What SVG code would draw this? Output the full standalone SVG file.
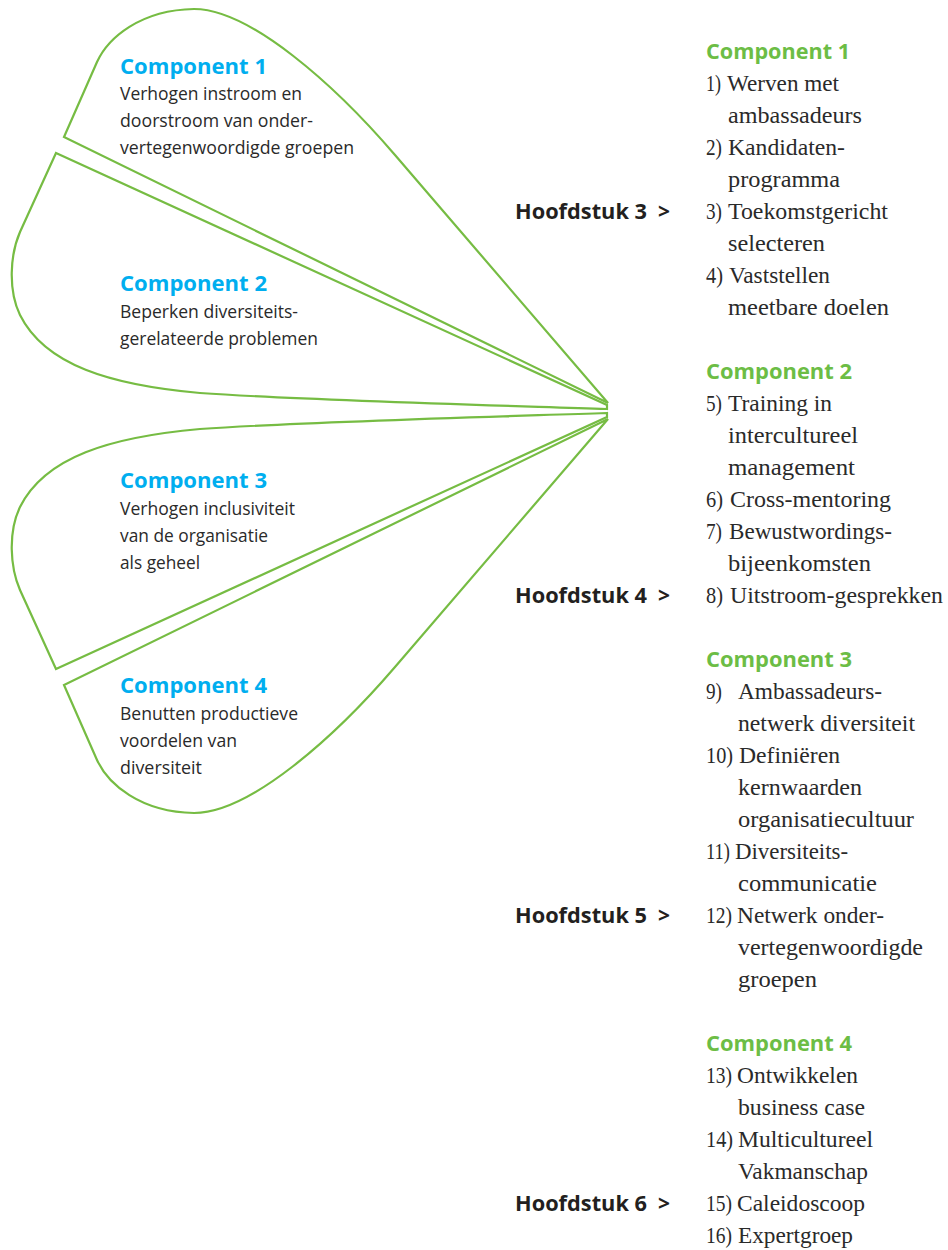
<svg xmlns="http://www.w3.org/2000/svg" width="948" height="1250" viewBox="0 0 948 1250">
<style>
.petal{fill:none;stroke:#76BC43;stroke-width:2.2;stroke-linejoin:miter}
.lh{font-family:"Open Sans","Liberation Sans",sans-serif;font-weight:700;font-size:21px;fill:#00AEEF}
.lt{font-family:"Open Sans","Liberation Sans",sans-serif;font-weight:400;font-size:18px;fill:#2a2a2a}
.rh{font-family:"Open Sans","Liberation Sans",sans-serif;font-weight:700;font-size:21px;fill:#6CBD45}
.rt{font-family:"Liberation Serif","DejaVu Serif",serif;font-size:24px;fill:#2a2a2a}
.hs{font-family:"Open Sans","Liberation Sans",sans-serif;font-weight:700;font-size:21px;fill:#231F20}
</style>
<rect width="948" height="1250" fill="#ffffff"/>

<g id="petal-1">
<path class="petal" d="M64,137 L97,62 C108,38 140,10 194,9 C250,9 335,85 395,155 L608,403 Z"/>
<text class="lh" x="120" y="74" textLength="147" lengthAdjust="spacingAndGlyphs">Component 1</text>
<text class="lt" x="120" y="100" textLength="182" lengthAdjust="spacingAndGlyphs">Verhogen instroom en</text>
<text class="lt" x="120" y="127" textLength="193" lengthAdjust="spacingAndGlyphs">doorstroom van onder-</text>
<text class="lt" x="120" y="154" textLength="234" lengthAdjust="spacingAndGlyphs">vertegenwoordigde groepen</text>
</g>

<g id="petal-2">
<path class="petal" d="M56,153 L607,405 L607,409 C450,404 300,400 200,393 C110,385 45,365 20,315 C8,290 10,255 20,232 Z"/>
<text class="lh" x="120" y="291" textLength="147" lengthAdjust="spacingAndGlyphs">Component 2</text>
<text class="lt" x="120" y="318" textLength="178" lengthAdjust="spacingAndGlyphs">Beperken diversiteits-</text>
<text class="lt" x="120" y="345" textLength="198" lengthAdjust="spacingAndGlyphs">gerelateerde problemen</text>
</g>

<g id="petal-3">
<path class="petal" d="M56,669 L607,417 L607,413 C450,418 300,422 200,429 C110,437 45,457 20,507 C8,532 10,567 20,590 Z"/>
<text class="lh" x="120" y="488" textLength="147" lengthAdjust="spacingAndGlyphs">Component 3</text>
<text class="lt" x="120" y="515" textLength="175" lengthAdjust="spacingAndGlyphs">Verhogen inclusiviteit</text>
<text class="lt" x="120" y="542" textLength="148" lengthAdjust="spacingAndGlyphs">van de organisatie</text>
<text class="lt" x="120" y="569" textLength="80" lengthAdjust="spacingAndGlyphs">als geheel</text>
</g>

<g id="petal-4">
<path class="petal" d="M64,685 L97,760 C108,784 140,812 194,813 C250,813 335,737 395,667 L608,419 Z"/>
<text class="lh" x="120" y="693" textLength="147" lengthAdjust="spacingAndGlyphs">Component 4</text>
<text class="lt" x="120" y="720" textLength="178" lengthAdjust="spacingAndGlyphs">Benutten productieve</text>
<text class="lt" x="120" y="747" textLength="117" lengthAdjust="spacingAndGlyphs">voordelen van</text>
<text class="lt" x="120" y="774" textLength="82" lengthAdjust="spacingAndGlyphs">diversiteit</text>
</g>

<g id="hoofdstuk-3"><text class="hs" x="515" y="219"><tspan textLength="132" lengthAdjust="spacingAndGlyphs">Hoofdstuk 3</tspan><tspan x="658">&gt;</tspan></text></g>
<g id="hoofdstuk-4"><text class="hs" x="515" y="603"><tspan textLength="132" lengthAdjust="spacingAndGlyphs">Hoofdstuk 4</tspan><tspan x="658">&gt;</tspan></text></g>
<g id="hoofdstuk-5"><text class="hs" x="515" y="923"><tspan textLength="132" lengthAdjust="spacingAndGlyphs">Hoofdstuk 5</tspan><tspan x="658">&gt;</tspan></text></g>
<g id="hoofdstuk-6"><text class="hs" x="515" y="1211"><tspan textLength="132" lengthAdjust="spacingAndGlyphs">Hoofdstuk 6</tspan><tspan x="658">&gt;</tspan></text></g>

<g id="list-component-1">
<text class="rh" x="706" y="59" textLength="144" lengthAdjust="spacingAndGlyphs">Component 1</text>
<text class="rt" x="706" y="91" textLength="15" lengthAdjust="spacingAndGlyphs">1)</text><text class="rt" x="727" y="91" textLength="112" lengthAdjust="spacingAndGlyphs">Werven met</text>
<text class="rt" x="728" y="123" textLength="134" lengthAdjust="spacingAndGlyphs">ambassadeurs</text>
<text class="rt" x="706" y="155" textLength="16" lengthAdjust="spacingAndGlyphs">2)</text><text class="rt" x="728" y="155" textLength="117" lengthAdjust="spacingAndGlyphs">Kandidaten-</text>
<text class="rt" x="728" y="187" textLength="112" lengthAdjust="spacingAndGlyphs">programma</text>
<text class="rt" x="706" y="219" textLength="16" lengthAdjust="spacingAndGlyphs">3)</text><text class="rt" x="728" y="219" textLength="160" lengthAdjust="spacingAndGlyphs">Toekomstgericht</text>
<text class="rt" x="728" y="251" textLength="97" lengthAdjust="spacingAndGlyphs">selecteren</text>
<text class="rt" x="706" y="283" textLength="17" lengthAdjust="spacingAndGlyphs">4)</text><text class="rt" x="729" y="283" textLength="101" lengthAdjust="spacingAndGlyphs">Vaststellen</text>
<text class="rt" x="728" y="315" textLength="161" lengthAdjust="spacingAndGlyphs">meetbare doelen</text>
</g>

<g id="list-component-2">
<text class="rh" x="706" y="379" textLength="146" lengthAdjust="spacingAndGlyphs">Component 2</text>
<text class="rt" x="706" y="411" textLength="16" lengthAdjust="spacingAndGlyphs">5)</text><text class="rt" x="728" y="411" textLength="104" lengthAdjust="spacingAndGlyphs">Training in</text>
<text class="rt" x="728" y="443" textLength="130" lengthAdjust="spacingAndGlyphs">intercultureel</text>
<text class="rt" x="728" y="475" textLength="127" lengthAdjust="spacingAndGlyphs">management</text>
<text class="rt" x="706" y="507" textLength="17" lengthAdjust="spacingAndGlyphs">6)</text><text class="rt" x="730" y="507" textLength="161" lengthAdjust="spacingAndGlyphs">Cross-mentoring</text>
<text class="rt" x="706" y="539" textLength="16" lengthAdjust="spacingAndGlyphs">7)</text><text class="rt" x="729" y="539" textLength="163" lengthAdjust="spacingAndGlyphs">Bewustwordings-</text>
<text class="rt" x="728" y="571" textLength="143" lengthAdjust="spacingAndGlyphs">bijeenkomsten</text>
<text class="rt" x="706" y="603" textLength="17" lengthAdjust="spacingAndGlyphs">8)</text><text class="rt" x="730" y="603" textLength="213" lengthAdjust="spacingAndGlyphs">Uitstroom-gesprekken</text>
</g>

<g id="list-component-3">
<text class="rh" x="706" y="667" textLength="146" lengthAdjust="spacingAndGlyphs">Component 3</text>
<text class="rt" x="706" y="699" textLength="16" lengthAdjust="spacingAndGlyphs">9)</text><text class="rt" x="738" y="699" textLength="144" lengthAdjust="spacingAndGlyphs">Ambassadeurs-</text>
<text class="rt" x="738" y="731" textLength="177" lengthAdjust="spacingAndGlyphs">netwerk diversiteit</text>
<text class="rt" x="706" y="763" textLength="27" lengthAdjust="spacingAndGlyphs">10)</text><text class="rt" x="739" y="763" textLength="101" lengthAdjust="spacingAndGlyphs">Definiëren</text>
<text class="rt" x="738" y="795" textLength="124" lengthAdjust="spacingAndGlyphs">kernwaarden</text>
<text class="rt" x="738" y="827" textLength="176" lengthAdjust="spacingAndGlyphs">organisatiecultuur</text>
<text class="rt" x="706" y="859" textLength="24" lengthAdjust="spacingAndGlyphs">11)</text><text class="rt" x="735" y="859" textLength="113" lengthAdjust="spacingAndGlyphs">Diversiteits-</text>
<text class="rt" x="738" y="891" textLength="139" lengthAdjust="spacingAndGlyphs">communicatie</text>
<text class="rt" x="706" y="923" textLength="26" lengthAdjust="spacingAndGlyphs">12)</text><text class="rt" x="737" y="923" textLength="147" lengthAdjust="spacingAndGlyphs">Netwerk onder-</text>
<text class="rt" x="738" y="955" textLength="185" lengthAdjust="spacingAndGlyphs">vertegenwoordigde</text>
<text class="rt" x="738" y="987" textLength="79" lengthAdjust="spacingAndGlyphs">groepen</text>
</g>

<g id="list-component-4">
<text class="rh" x="706" y="1051" textLength="146" lengthAdjust="spacingAndGlyphs">Component 4</text>
<text class="rt" x="706" y="1083" textLength="26" lengthAdjust="spacingAndGlyphs">13)</text><text class="rt" x="737" y="1083" textLength="121" lengthAdjust="spacingAndGlyphs">Ontwikkelen</text>
<text class="rt" x="738" y="1115" textLength="127" lengthAdjust="spacingAndGlyphs">business case</text>
<text class="rt" x="706" y="1147" textLength="27" lengthAdjust="spacingAndGlyphs">14)</text><text class="rt" x="738" y="1147" textLength="135" lengthAdjust="spacingAndGlyphs">Multicultureel</text>
<text class="rt" x="738" y="1179" textLength="130" lengthAdjust="spacingAndGlyphs">Vakmanschap</text>
<text class="rt" x="706" y="1211" textLength="26" lengthAdjust="spacingAndGlyphs">15)</text><text class="rt" x="737" y="1211" textLength="128" lengthAdjust="spacingAndGlyphs">Caleidoscoop</text>
<text class="rt" x="706" y="1243" textLength="26" lengthAdjust="spacingAndGlyphs">16)</text><text class="rt" x="738" y="1243" textLength="115" lengthAdjust="spacingAndGlyphs">Expertgroep</text>
</g>
</svg>
